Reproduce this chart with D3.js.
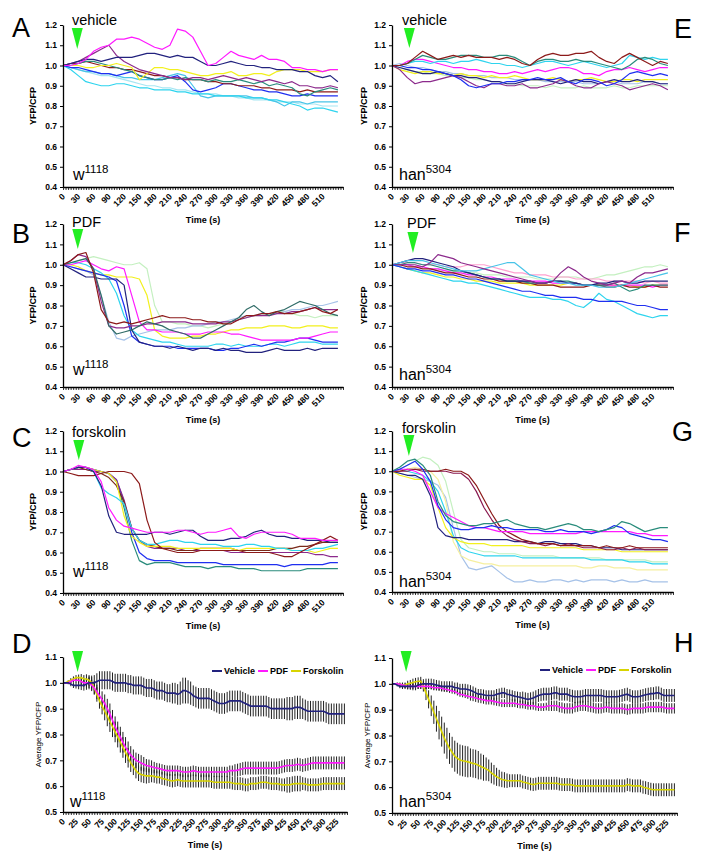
<!DOCTYPE html>
<html><head><meta charset="utf-8">
<script src="https://cdn.jsdelivr.net/npm/d3@7"></script>
<style>body{margin:0;background:#fff}svg{display:block}</style>
</head><body>
<svg id="c" width="704" height="858"></svg>
<script>
// ---------- categories / ticks ----------
const timeTraces = [0,15,30,45,60,75,90,105,120,135,150,165,180,195,210,225,240,255,270,285,300,315,330,345,360,375,390,405,420,435,450,465,480,495,510,525,540];
const timeAvg = [0,5,10,15,20,25,30,35,40,45,50,55,60,65,70,75,80,85,90,95,100,105,110,115,120,125,130,135,140,145,150,155,160,165,170,175,180,185,190,195,200,205,210,215,220,225,230,235,240,245,250,255,260,265,270,275,280,285,290,295,300,305,310,315,320,325,330,335,340,345,350,355,360,365,370,375,380,385,390,395,400,405,410,415,420,425,430,435,440,445,450,455,460,465,470,475,480,485,490,495,500,505,510,515,520,525,530,535,540];
const yTicksTrace = [0.4,0.5,0.6,0.7,0.8,0.9,1.0,1.1,1.2];
const yTicksAvg = [0.5,0.6,0.7,0.8,0.9,1.0,1.1];
const xLabelsTrace = [0,30,60,90,120,150,180,210,240,270,300,330,360,390,420,450,480,510];
const xLabelsAvg = [0,25,50,75,100,125,150,175,200,225,250,275,300,325,350,375,400,425,450,475,500,525];
const stimTimes = {A:28,B:29,C:31,D:28,E:34,F:41,G:33,H:27};

// ---------- Panel A: w1118 vehicle ----------
const A_magenta = [1.00,1.00,1.01,1.03,1.07,1.09,1.10,1.13,1.13,1.14, 1.13,1.11,1.09,1.08,1.10,1.18,1.17,1.14,1.07,1.00, 1.01,1.04,1.07,1.05,1.04,1.03,1.05,1.03,1.03,1.02, 0.99,0.99,0.98,0.98,0.97,0.98,0.98];
const A_navy = [1.00,1.01,1.02,1.03,1.03,1.02,1.03,1.04,1.04,1.04, 1.05,1.06,1.06,1.05,1.04,1.05,1.04,1.04,1.02,1.00, 1.00,1.01,1.02,1.01,1.00,1.00,0.99,0.99,0.98,0.98, 0.98,0.97,0.97,0.95,0.94,0.95,0.92];
const A_purple = [1.00,1.01,1.02,1.04,1.06,1.08,1.10,1.05,1.02,1.00, 0.98,0.97,0.96,0.95,0.94,0.94,0.93,0.94,0.94,0.93, 0.94,0.95,0.94,0.93,0.94,0.93,0.92,0.93,0.92,0.91, 0.92,0.90,0.90,0.89,0.89,0.90,0.89];
const A_yellow = [1.00,1.00,1.00,0.99,0.99,1.00,1.00,1.01,1.00,0.99, 0.93,0.96,0.99,0.99,0.98,0.98,0.97,0.96,0.95,0.95, 0.96,0.96,0.97,0.95,0.95,0.96,0.96,0.95,0.97,0.98, 0.98,0.98,0.97,0.97,0.97,0.98,0.98];
const A_teal = [1.00,1.00,1.01,1.02,1.02,1.01,1.00,0.99,0.98,0.97, 0.95,0.94,0.93,0.93,0.94,0.93,0.94,0.93,0.93,0.92, 0.93,0.92,0.92,0.93,0.92,0.91,0.92,0.90,0.91,0.90, 0.89,0.86,0.85,0.87,0.88,0.89,0.88];
const A_darkred = [1.00,1.01,1.01,1.02,1.01,1.00,0.99,0.99,0.98,0.98, 0.97,0.96,0.95,0.95,0.94,0.94,0.93,0.93,0.93,0.92, 0.92,0.91,0.91,0.90,0.90,0.90,0.89,0.89,0.88,0.88, 0.88,0.87,0.88,0.87,0.87,0.87,0.87];
const A_blue = [1.00,0.99,0.99,0.98,0.97,0.96,0.96,0.95,0.96,0.97, 0.95,0.94,0.93,0.93,0.94,0.95,0.92,0.88,0.87,0.88, 0.89,0.91,0.91,0.90,0.89,0.88,0.88,0.87,0.87,0.86, 0.85,0.85,0.86,0.85,0.85,0.85,0.85];
const A_cyan = [1.00,0.98,0.95,0.92,0.91,0.90,0.90,0.91,0.91,0.90, 0.89,0.89,0.88,0.88,0.88,0.87,0.87,0.86,0.86,0.86, 0.85,0.85,0.85,0.85,0.84,0.84,0.84,0.83,0.83,0.82, 0.81,0.80,0.78,0.79,0.79,0.78,0.77];
const A_sky = [1.00,0.99,0.98,0.97,0.97,0.96,0.96,0.95,0.94,0.94, 0.93,0.93,0.93,0.94,0.95,0.96,0.95,0.90,0.85,0.84, 0.85,0.85,0.85,0.85,0.85,0.84,0.84,0.83,0.82,0.80, 0.82,0.82,0.81,0.82,0.82,0.82,0.82];
const A_paleCyan = [1.00,0.99,0.98,0.97,0.96,0.95,0.95,0.94,0.93,0.92, 0.91,0.90,0.90,0.89,0.89,0.88,0.88,0.87,0.86,0.86, 0.86,0.85,0.85,0.84,0.84,0.83,0.83,0.83,0.82,0.82, 0.82,0.81,0.81,0.81,0.80,0.80,0.80];

// ---------- Panel B: w1118 PDF ----------
const B_darkred = [1.00,1.02,1.05,1.06,0.96,0.78,0.72,0.71,0.72,0.71, 0.72,0.73,0.74,0.75,0.74,0.74,0.74,0.73,0.73,0.72, 0.72,0.71,0.71,0.73,0.75,0.75,0.76,0.76,0.77,0.76, 0.76,0.77,0.78,0.79,0.77,0.76,0.78];
const B_slate = [1.00,1.01,1.02,1.03,0.98,0.85,0.70,0.66,0.67,0.68, 0.70,0.72,0.71,0.70,0.68,0.67,0.66,0.64,0.64,0.66, 0.68,0.70,0.72,0.74,0.78,0.80,0.77,0.75,0.77,0.78, 0.80,0.82,0.81,0.80,0.78,0.76,0.75];
const B_navy = [1.00,0.98,0.96,0.94,0.94,0.93,0.93,0.93,0.90,0.68, 0.62,0.61,0.60,0.60,0.59,0.60,0.59,0.58,0.59,0.59, 0.58,0.59,0.58,0.58,0.57,0.57,0.57,0.58,0.59,0.58, 0.58,0.58,0.59,0.58,0.59,0.59,0.59];
const B_blue = [1.00,0.99,0.98,0.97,0.96,0.95,0.94,0.92,0.80,0.65, 0.62,0.61,0.60,0.60,0.60,0.59,0.59,0.59,0.59,0.59, 0.58,0.58,0.59,0.59,0.60,0.61,0.60,0.61,0.62,0.62, 0.63,0.64,0.64,0.63,0.62,0.62,0.62];
const B_magenta = [1.00,1.00,1.01,1.02,1.00,0.98,0.97,0.99,0.98,0.85, 0.72,0.68,0.68,0.67,0.67,0.67,0.66,0.66,0.66,0.67, 0.67,0.67,0.66,0.66,0.65,0.64,0.63,0.63,0.63,0.63, 0.63,0.64,0.64,0.65,0.66,0.67,0.67];
const B_yellow = [1.00,1.00,0.99,0.97,0.96,0.95,0.95,0.94,0.94,0.94, 0.93,0.85,0.68,0.65,0.64,0.64,0.64,0.65,0.65,0.66, 0.66,0.67,0.68,0.68,0.69,0.69,0.69,0.70,0.70,0.70, 0.69,0.69,0.70,0.70,0.70,0.69,0.69];
const B_paleGreen = [1.00,1.01,1.02,1.03,1.04,1.03,1.02,1.01,1.00,1.00, 1.01,0.98,0.80,0.72,0.72,0.71,0.71,0.70,0.70,0.69, 0.70,0.71,0.72,0.73,0.74,0.75,0.75,0.76,0.77,0.77, 0.76,0.75,0.75,0.74,0.75,0.75,0.75];
const B_cyan = [1.00,1.01,1.01,1.00,0.98,0.96,0.93,0.86,0.75,0.68, 0.65,0.64,0.63,0.62,0.62,0.61,0.60,0.60,0.60,0.60, 0.61,0.61,0.60,0.61,0.60,0.60,0.60,0.61,0.61,0.60, 0.61,0.62,0.62,0.62,0.61,0.61,0.61];
const B_steel = [1.00,0.99,0.98,0.97,0.95,0.85,0.72,0.64,0.63,0.65, 0.66,0.67,0.68,0.68,0.68,0.69,0.69,0.70,0.70,0.71, 0.72,0.72,0.73,0.74,0.75,0.75,0.76,0.76,0.76,0.77, 0.78,0.78,0.79,0.80,0.80,0.81,0.82];
const B_purple = [1.00,1.02,1.05,1.04,0.98,0.82,0.70,0.69,0.69,0.70, 0.70,0.71,0.71,0.72,0.72,0.72,0.72,0.71,0.71,0.71, 0.71,0.72,0.72,0.73,0.74,0.75,0.75,0.75,0.76,0.76, 0.77,0.77,0.78,0.79,0.78,0.78,0.78];

// ---------- Panel C: w1118 forskolin ----------
const C_magenta = [1.00,1.01,1.03,1.02,1.01,0.95,0.82,0.76,0.73,0.72, 0.71,0.70,0.70,0.70,0.70,0.71,0.71,0.70,0.69,0.70, 0.70,0.71,0.72,0.68,0.67,0.69,0.70,0.70,0.70,0.70, 0.69,0.67,0.67,0.67,0.66,0.66,0.66];
const C_navy = [1.00,1.01,1.02,1.02,1.00,0.93,0.78,0.70,0.69,0.69, 0.69,0.69,0.70,0.70,0.69,0.70,0.71,0.71,0.68,0.66, 0.66,0.66,0.67,0.67,0.68,0.70,0.71,0.69,0.68,0.68, 0.67,0.67,0.66,0.66,0.66,0.65,0.65];
const C_cyan = [1.00,1.01,1.02,1.02,1.00,0.92,0.89,0.87,0.84,0.72, 0.66,0.64,0.64,0.65,0.66,0.66,0.65,0.65,0.64,0.64, 0.64,0.63,0.63,0.63,0.64,0.64,0.63,0.63,0.62,0.62, 0.61,0.61,0.61,0.62,0.62,0.63,0.64];
const C_yellow = [1.00,1.01,1.02,1.02,1.01,1.00,0.99,0.95,0.78,0.68, 0.65,0.63,0.63,0.63,0.63,0.62,0.62,0.62,0.62,0.62, 0.62,0.62,0.62,0.61,0.62,0.62,0.62,0.62,0.62,0.62, 0.61,0.61,0.61,0.60,0.61,0.62,0.62];
const C_purple = [1.00,1.01,1.01,1.01,1.00,1.00,0.99,0.96,0.86,0.72, 0.66,0.63,0.62,0.62,0.62,0.62,0.61,0.61,0.61,0.61, 0.61,0.61,0.60,0.60,0.60,0.60,0.60,0.60,0.60,0.60, 0.60,0.60,0.60,0.59,0.59,0.58,0.58];
const C_darkred = [1.00,0.99,0.98,0.98,0.98,0.99,1.00,1.00,1.00,0.99, 0.94,0.76,0.65,0.62,0.61,0.60,0.60,0.60,0.61,0.61, 0.61,0.61,0.61,0.61,0.60,0.60,0.60,0.60,0.59,0.58, 0.58,0.60,0.62,0.64,0.66,0.68,0.66];
const C_brown = [1.00,1.01,1.02,1.01,1.00,0.99,0.97,0.93,0.85,0.72, 0.66,0.64,0.63,0.62,0.62,0.61,0.61,0.61,0.62,0.62, 0.62,0.62,0.62,0.61,0.61,0.61,0.61,0.61,0.62,0.62, 0.62,0.63,0.63,0.64,0.65,0.65,0.65];
const C_blue = [1.00,1.01,1.02,1.02,1.01,1.00,0.99,0.96,0.85,0.70, 0.60,0.57,0.56,0.56,0.56,0.55,0.55,0.55,0.55,0.55, 0.55,0.54,0.54,0.54,0.54,0.54,0.54,0.54,0.54,0.53, 0.54,0.54,0.54,0.54,0.54,0.55,0.55];
const C_teal = [1.00,1.01,1.02,1.02,1.01,1.00,0.99,0.95,0.82,0.66, 0.56,0.54,0.55,0.55,0.55,0.54,0.53,0.53,0.53,0.52, 0.53,0.53,0.53,0.52,0.52,0.52,0.51,0.51,0.51,0.51, 0.51,0.51,0.52,0.52,0.52,0.52,0.52];

// ---------- Panel E: han5304 vehicle ----------
const E_darkred = [1.00,1.00,1.01,1.04,1.07,1.05,1.03,1.04,1.05,1.04, 1.05,1.04,1.04,1.04,1.03,1.04,1.03,1.01,1.00,1.03, 1.05,1.06,1.05,1.05,1.06,1.06,1.07,1.04,1.02,1.01, 1.04,1.06,1.04,1.02,1.00,1.02,1.01];
const E_teal = [1.00,1.00,1.01,1.03,1.05,1.04,1.03,1.03,1.04,1.05, 1.05,1.05,1.04,1.04,1.05,1.05,1.04,1.02,1.00,1.02, 1.03,1.03,1.02,1.02,1.03,1.02,1.02,1.01,1.00,0.99, 0.98,1.00,1.03,1.04,1.03,1.01,1.00];
const E_cyan = [1.00,1.00,1.01,1.02,1.02,1.01,1.02,1.02,1.01,1.02, 1.02,1.03,1.02,1.01,1.01,1.00,1.00,0.99,1.00,1.01, 1.02,1.02,1.01,1.00,1.01,1.02,1.01,1.00,0.99,1.00, 1.01,1.05,1.04,1.03,1.04,1.03,1.03];
const E_magenta = [1.00,1.00,1.02,1.03,1.03,1.02,1.01,1.00,0.99,0.99, 0.98,0.98,0.97,0.97,0.96,0.96,0.97,0.96,0.97,0.98, 0.97,0.98,0.99,0.99,0.98,0.96,0.96,0.95,0.97,0.98, 0.98,0.99,0.98,0.97,0.98,0.99,0.99];
const E_yellow = [1.00,0.98,0.97,0.96,0.97,0.97,0.96,0.96,0.95,0.96, 0.95,0.95,0.94,0.95,0.94,0.94,0.95,0.94,0.93,0.93, 0.93,0.94,0.93,0.92,0.93,0.93,0.94,0.93,0.92,0.92, 0.93,0.93,0.92,0.93,0.93,0.93,0.93];
const E_purple = [1.00,0.98,0.94,0.91,0.92,0.92,0.93,0.94,0.95,0.94, 0.92,0.90,0.89,0.91,0.91,0.90,0.90,0.91,0.89,0.89, 0.90,0.91,0.93,0.92,0.90,0.89,0.89,0.91,0.92,0.91, 0.90,0.88,0.89,0.90,0.91,0.90,0.88];
const E_blue = [1.00,1.00,0.99,0.99,0.98,0.98,0.97,0.96,0.95,0.93, 0.90,0.89,0.90,0.91,0.91,0.92,0.92,0.93,0.93,0.94, 0.93,0.93,0.94,0.92,0.91,0.93,0.93,0.92,0.90,0.91, 0.93,0.96,0.97,0.96,0.95,0.96,0.95];
const E_navy = [1.00,0.99,0.98,0.97,0.96,0.96,0.97,0.96,0.95,0.95, 0.94,0.94,0.93,0.92,0.92,0.91,0.91,0.92,0.93,0.93, 0.93,0.92,0.91,0.92,0.93,0.92,0.92,0.91,0.92,0.93, 0.92,0.92,0.93,0.92,0.92,0.91,0.91];
const E_paleGreen = [1.00,0.99,0.98,0.97,0.97,0.96,0.96,0.95,0.95,0.94, 0.94,0.93,0.93,0.92,0.92,0.91,0.91,0.90,0.90,0.90, 0.89,0.90,0.89,0.89,0.89,0.90,0.89,0.89,0.89,0.90, 0.89,0.89,0.90,0.90,0.90,0.90,0.90];
const E_steel = [1.00,1.01,1.00,0.99,0.99,0.98,0.97,0.97,0.96,0.96, 0.95,0.95,0.95,0.94,0.94,0.94,0.93,0.93,0.93,0.93, 0.92,0.92,0.92,0.92,0.92,0.91,0.91,0.91,0.92,0.92, 0.91,0.91,0.91,0.92,0.92,0.91,0.91];

// ---------- Panel F: han5304 PDF ----------
const F_purple = [1.00,1.00,1.00,1.00,0.99,1.01,1.05,1.04,1.03,1.01, 1.00,0.99,0.98,0.97,0.96,0.95,0.94,0.93,0.92,0.91, 0.91,0.92,0.96,0.99,0.97,0.94,0.92,0.91,0.90,0.91, 0.92,0.91,0.94,0.96,0.96,0.97,0.98];
const F_blue = [1.00,0.99,0.98,0.98,0.97,0.97,0.96,0.95,0.95,0.94, 0.93,0.93,0.92,0.91,0.90,0.89,0.88,0.87,0.87,0.86, 0.85,0.85,0.84,0.84,0.84,0.83,0.83,0.82,0.82,0.82, 0.82,0.81,0.80,0.80,0.79,0.78,0.78];
const F_cyan = [1.00,0.99,0.98,0.97,0.96,0.95,0.94,0.93,0.92,0.92, 0.91,0.91,0.90,0.89,0.88,0.87,0.86,0.85,0.84,0.84, 0.84,0.83,0.83,0.82,0.80,0.79,0.82,0.86,0.83,0.82, 0.80,0.78,0.76,0.75,0.74,0.75,0.75];
const F_sky = [1.00,1.01,1.02,1.02,1.02,1.01,1.00,0.99,0.98,0.97, 0.97,0.97,0.98,0.99,1.00,1.01,1.01,0.98,0.95,0.94, 0.93,0.92,0.91,0.91,0.90,0.90,0.90,0.89,0.89,0.89, 0.90,0.91,0.92,0.93,0.94,0.95,0.96];
const F_pink = [1.00,1.01,1.01,1.01,1.00,1.00,1.00,0.99,0.99,0.99, 1.00,1.00,1.00,0.99,0.98,0.97,0.96,0.96,0.95,0.95, 0.95,0.94,0.94,0.94,0.93,0.93,0.93,0.93,0.92,0.92, 0.92,0.92,0.92,0.91,0.92,0.91,0.91];
const F_magenta = [1.00,1.00,1.00,0.99,0.99,0.98,0.98,0.97,0.96,0.96, 0.95,0.95,0.94,0.94,0.93,0.93,0.93,0.92,0.92,0.92, 0.92,0.91,0.91,0.91,0.91,0.90,0.90,0.90,0.90,0.90, 0.90,0.90,0.90,0.90,0.89,0.90,0.90];
const F_darkred = [1.00,1.00,0.99,0.99,0.98,0.98,0.97,0.96,0.96,0.95, 0.94,0.94,0.93,0.93,0.92,0.92,0.92,0.91,0.91,0.90, 0.90,0.90,0.89,0.89,0.89,0.89,0.90,0.90,0.89,0.89, 0.90,0.89,0.89,0.89,0.90,0.89,0.89];
const F_teal = [1.00,1.00,1.01,1.01,1.00,1.00,0.99,0.98,0.97,0.97, 0.96,0.95,0.94,0.93,0.93,0.92,0.92,0.92,0.91,0.91, 0.91,0.92,0.92,0.92,0.91,0.90,0.90,0.90,0.90,0.91, 0.89,0.87,0.88,0.90,0.90,0.90,0.90];
const F_navy = [1.00,1.01,1.02,1.03,1.03,1.02,1.01,1.00,0.99,0.97, 0.96,0.95,0.94,0.93,0.93,0.92,0.92,0.92,0.92,0.91, 0.91,0.92,0.92,0.91,0.91,0.90,0.90,0.91,0.91,0.92, 0.92,0.91,0.91,0.92,0.92,0.92,0.92];
const F_yellow = [1.00,0.99,0.98,0.97,0.96,0.96,0.95,0.94,0.94,0.93, 0.93,0.92,0.92,0.92,0.91,0.91,0.91,0.91,0.90,0.90, 0.90,0.90,0.90,0.91,0.91,0.90,0.90,0.90,0.90,0.90, 0.90,0.90,0.89,0.89,0.90,0.90,0.90];
const F_paleGreen = [1.00,1.00,1.00,0.99,0.99,0.98,0.98,0.97,0.97,0.96, 0.96,0.96,0.95,0.95,0.95,0.94,0.94,0.94,0.94,0.93, 0.93,0.93,0.94,0.94,0.94,0.93,0.93,0.94,0.95,0.95, 0.96,0.97,0.98,0.99,0.99,1.00,0.99];

// ---------- Panel G: han5304 forskolin ----------
const G_teal = [1.00,1.02,1.05,1.06,1.03,0.98,0.85,0.78,0.75,0.74, 0.73,0.73,0.74,0.74,0.75,0.76,0.74,0.73,0.72,0.72, 0.71,0.72,0.73,0.74,0.73,0.71,0.71,0.70,0.71,0.72, 0.75,0.74,0.72,0.70,0.71,0.72,0.72];
const G_blue = [1.00,1.01,1.03,1.05,1.01,0.95,0.83,0.76,0.72,0.71, 0.71,0.72,0.72,0.73,0.72,0.72,0.71,0.71,0.71,0.71, 0.70,0.70,0.71,0.70,0.70,0.70,0.69,0.70,0.71,0.73, 0.72,0.69,0.68,0.67,0.66,0.66,0.65];
const G_magenta = [1.00,1.01,1.01,1.00,0.98,0.90,0.82,0.79,0.77,0.75, 0.73,0.72,0.72,0.71,0.70,0.70,0.70,0.70,0.69,0.69, 0.69,0.69,0.69,0.69,0.69,0.70,0.70,0.70,0.70,0.70, 0.70,0.70,0.69,0.69,0.68,0.68,0.68];
const G_navy = [1.00,0.99,0.98,0.98,0.96,0.88,0.72,0.68,0.67,0.67, 0.66,0.66,0.66,0.66,0.66,0.66,0.65,0.65,0.65,0.64, 0.65,0.65,0.64,0.64,0.64,0.63,0.63,0.62,0.62,0.62, 0.61,0.61,0.61,0.61,0.61,0.61,0.61];
const G_darkred = [1.00,1.00,1.01,1.01,1.01,1.00,1.00,1.01,1.00,1.00, 0.98,0.93,0.86,0.79,0.73,0.70,0.68,0.66,0.65,0.64, 0.64,0.64,0.63,0.63,0.63,0.63,0.63,0.62,0.63,0.62, 0.62,0.63,0.62,0.62,0.62,0.62,0.62];
const G_maroon = [1.00,1.00,1.00,1.01,1.00,1.00,1.00,1.00,0.99,0.99, 0.96,0.90,0.82,0.76,0.71,0.68,0.66,0.65,0.64,0.64, 0.63,0.64,0.63,0.64,0.63,0.62,0.62,0.62,0.61,0.61, 0.62,0.61,0.62,0.61,0.61,0.61,0.61];
const G_yellow = [1.00,0.98,0.97,0.96,0.96,0.93,0.82,0.72,0.67,0.65, 0.64,0.64,0.64,0.63,0.63,0.63,0.63,0.63,0.62,0.62, 0.62,0.62,0.62,0.62,0.62,0.61,0.61,0.61,0.61,0.61, 0.60,0.60,0.60,0.60,0.60,0.60,0.60];
const G_paleGreen = [1.00,1.01,1.03,1.05,1.07,1.06,1.03,0.95,0.80,0.66, 0.62,0.61,0.60,0.60,0.59,0.59,0.59,0.58,0.58,0.58, 0.58,0.58,0.57,0.57,0.57,0.57,0.57,0.57,0.56,0.56, 0.56,0.56,0.56,0.56,0.55,0.55,0.55];
const G_cyan = [1.00,1.01,1.00,0.99,0.98,0.95,0.90,0.80,0.68,0.62, 0.60,0.59,0.58,0.58,0.58,0.58,0.58,0.57,0.57,0.57, 0.57,0.57,0.57,0.57,0.57,0.57,0.56,0.56,0.56,0.56, 0.56,0.55,0.55,0.55,0.54,0.54,0.54];
const G_paleYellow = [1.00,1.00,1.01,1.02,1.01,1.00,0.96,0.85,0.65,0.58, 0.56,0.55,0.54,0.54,0.53,0.53,0.53,0.53,0.53,0.53, 0.53,0.53,0.53,0.53,0.53,0.52,0.52,0.53,0.53,0.52, 0.52,0.52,0.51,0.51,0.51,0.51,0.51];
const G_steel = [1.00,0.99,0.98,0.97,0.96,0.95,0.93,0.87,0.72,0.58, 0.52,0.51,0.52,0.53,0.50,0.47,0.45,0.45,0.46,0.45, 0.45,0.46,0.46,0.45,0.46,0.45,0.46,0.46,0.46,0.45, 0.46,0.45,0.45,0.46,0.45,0.45,0.45];

// ---------- Panel D: w1118 averages (mean, SEM), every 5 s ----------
const D_vehicle = [1.00,1.00,1.00,0.995,0.99,0.99,0.99,0.99,0.99,0.995, 1.00,1.00,1.00,1.005,1.01,1.01,1.01,1.01,1.01,1.005, 1.00,1.00,1.00,1.00,1.00,0.995,0.995,0.99,0.99,0.99, 0.99,0.985,0.98,0.98,0.98,0.975,0.97,0.97,0.97,0.965, 0.96,0.96,0.96,0.96,0.955,0.96,0.97,0.97,0.965,0.96, 0.95,0.945,0.94,0.94,0.94,0.94,0.94,0.935,0.93,0.925, 0.92,0.92,0.92,0.925,0.93,0.93,0.93,0.93,0.93,0.925, 0.92,0.915,0.91,0.91,0.91,0.91,0.91,0.91,0.91,0.905, 0.90,0.90,0.90,0.90,0.90,0.90,0.90,0.90,0.90,0.905, 0.905,0.905,0.90,0.895,0.89,0.89,0.89,0.89,0.89,0.89, 0.89,0.885,0.88,0.88,0.88,0.88,0.88,0.88,0.88];
const D_vehicleErr = [0,0.003,0.005,0.008,0.01,0.012,0.015,0.018,0.02,0.022, 0.025,0.028,0.03,0.032,0.035,0.035,0.035,0.035,0.035,0.035, 0.035,0.035,0.035,0.035,0.035,0.035,0.035,0.035,0.035,0.035, 0.035,0.035,0.035,0.035,0.035,0.035,0.035,0.035,0.035,0.035, 0.035,0.035,0.04,0.04,0.04,0.045,0.05,0.05,0.045,0.045, 0.04,0.04,0.04,0.04,0.04,0.04,0.04,0.04,0.04,0.04, 0.04,0.04,0.04,0.04,0.04,0.04,0.04,0.04,0.04,0.04, 0.04,0.04,0.04,0.04,0.04,0.04,0.04,0.04,0.04,0.04, 0.04,0.04,0.04,0.04,0.04,0.04,0.045,0.045,0.045,0.045, 0.045,0.045,0.04,0.04,0.04,0.04,0.04,0.04,0.04,0.04, 0.04,0.04,0.04,0.04,0.04,0.04,0.04,0.04,0.04];
const D_pdf = [1.00,1.00,1.00,1.005,1.01,1.01,1.01,1.005,1.00,1.00, 1.00,0.99,0.98,0.965,0.95,0.935,0.92,0.90,0.88,0.855, 0.83,0.81,0.79,0.77,0.75,0.735,0.72,0.71,0.70,0.695, 0.69,0.685,0.68,0.678,0.675,0.672,0.67,0.668,0.665,0.662, 0.66,0.66,0.66,0.66,0.66,0.658,0.655,0.655,0.655,0.657, 0.66,0.658,0.655,0.655,0.655,0.655,0.655,0.655,0.655,0.655, 0.655,0.655,0.655,0.655,0.66,0.66,0.66,0.662,0.665,0.668, 0.67,0.67,0.67,0.67,0.67,0.67,0.67,0.67,0.67,0.67, 0.67,0.67,0.67,0.672,0.675,0.678,0.68,0.68,0.68,0.682, 0.685,0.683,0.68,0.683,0.685,0.688,0.69,0.69,0.69,0.69, 0.69,0.69,0.69,0.69,0.69,0.69,0.69,0.69,0.69];
const D_pdfErr = [0,0.003,0.005,0.008,0.01,0.01,0.012,0.014,0.015,0.018, 0.02,0.022,0.025,0.028,0.03,0.032,0.035,0.038,0.04,0.04, 0.04,0.04,0.04,0.04,0.04,0.038,0.035,0.032,0.03,0.03, 0.03,0.028,0.025,0.025,0.025,0.022,0.02,0.02,0.02,0.02, 0.02,0.02,0.02,0.02,0.02,0.02,0.02,0.02,0.02,0.02, 0.02,0.02,0.02,0.02,0.02,0.02,0.02,0.02,0.02,0.02, 0.02,0.02,0.02,0.02,0.02,0.02,0.025,0.025,0.025,0.025, 0.025,0.025,0.025,0.025,0.025,0.025,0.025,0.025,0.025,0.025, 0.025,0.025,0.025,0.025,0.025,0.025,0.025,0.025,0.025,0.025, 0.025,0.025,0.025,0.025,0.025,0.025,0.025,0.025,0.025,0.025, 0.025,0.025,0.025,0.025,0.025,0.025,0.025,0.025,0.025];
const D_forsk = [1.00,1.00,1.005,1.01,1.015,1.02,1.02,1.02,1.015,1.015, 1.01,1.00,0.98,0.955,0.93,0.91,0.89,0.87,0.85,0.83, 0.81,0.79,0.77,0.75,0.73,0.71,0.69,0.675,0.66,0.65, 0.645,0.642,0.64,0.64,0.64,0.638,0.635,0.635,0.63,0.628, 0.625,0.622,0.62,0.622,0.625,0.622,0.62,0.62,0.62,0.62, 0.62,0.62,0.62,0.62,0.62,0.62,0.62,0.618,0.615,0.615, 0.615,0.615,0.615,0.615,0.615,0.612,0.61,0.61,0.61,0.608, 0.605,0.605,0.61,0.61,0.61,0.612,0.615,0.615,0.615,0.612, 0.61,0.61,0.61,0.608,0.605,0.605,0.605,0.605,0.608,0.61, 0.61,0.61,0.61,0.608,0.605,0.605,0.605,0.605,0.605,0.608, 0.61,0.61,0.61,0.61,0.61,0.61,0.61,0.61,0.61];
const D_forskErr = [0,0.003,0.005,0.008,0.01,0.01,0.012,0.014,0.015,0.018, 0.02,0.022,0.025,0.028,0.03,0.032,0.035,0.038,0.04,0.04, 0.04,0.04,0.04,0.04,0.04,0.038,0.035,0.032,0.03,0.03, 0.03,0.03,0.03,0.028,0.025,0.025,0.025,0.025,0.025,0.025, 0.025,0.025,0.025,0.025,0.025,0.025,0.025,0.025,0.025,0.025, 0.025,0.025,0.025,0.025,0.025,0.025,0.025,0.025,0.025,0.025, 0.025,0.025,0.025,0.025,0.025,0.025,0.025,0.025,0.025,0.025, 0.025,0.025,0.025,0.025,0.025,0.025,0.025,0.025,0.025,0.025, 0.025,0.025,0.025,0.025,0.025,0.025,0.03,0.03,0.03,0.03, 0.03,0.03,0.025,0.025,0.025,0.025,0.025,0.025,0.025,0.025, 0.025,0.025,0.025,0.025,0.025,0.025,0.025,0.025,0.025];

// ---------- Panel H: han5304 averages (mean, SEM), every 5 s ----------
const H_vehicle = [1.00,1.00,0.995,0.99,0.99,0.99,0.99,0.99,0.99,0.99, 0.995,0.998,1.00,1.00,1.00,1.00,0.998,0.995,0.993,0.99, 0.99,0.99,0.99,0.99,0.985,0.985,0.98,0.98,0.98,0.978, 0.975,0.97,0.965,0.96,0.96,0.958,0.955,0.955,0.955,0.955, 0.96,0.962,0.965,0.965,0.96,0.958,0.955,0.952,0.95,0.948, 0.945,0.942,0.94,0.942,0.945,0.95,0.955,0.958,0.96,0.96, 0.96,0.962,0.965,0.965,0.96,0.96,0.96,0.96,0.955,0.952, 0.95,0.95,0.95,0.952,0.955,0.955,0.955,0.955,0.955,0.955, 0.955,0.952,0.95,0.95,0.95,0.95,0.95,0.952,0.955,0.958, 0.96,0.955,0.95,0.95,0.95,0.952,0.955,0.958,0.96,0.962, 0.962,0.965,0.965,0.96,0.955,0.955,0.955,0.955,0.955];
const H_vehicleErr = [0,0.003,0.005,0.007,0.01,0.01,0.012,0.013,0.015,0.015, 0.015,0.017,0.018,0.02,0.02,0.02,0.02,0.02,0.02,0.02, 0.02,0.02,0.02,0.02,0.02,0.02,0.02,0.02,0.02,0.02, 0.02,0.02,0.02,0.02,0.02,0.02,0.02,0.02,0.02,0.02, 0.02,0.02,0.02,0.02,0.02,0.02,0.02,0.02,0.02,0.02, 0.025,0.025,0.025,0.025,0.025,0.025,0.025,0.025,0.025,0.025, 0.025,0.025,0.025,0.025,0.025,0.025,0.025,0.025,0.025,0.025, 0.025,0.025,0.025,0.025,0.025,0.025,0.025,0.025,0.025,0.025, 0.025,0.025,0.025,0.025,0.025,0.025,0.025,0.025,0.025,0.025, 0.025,0.025,0.025,0.025,0.025,0.025,0.025,0.025,0.025,0.025, 0.025,0.025,0.025,0.025,0.025,0.025,0.025,0.025,0.025];
const H_pdf = [1.00,1.00,1.00,0.998,0.995,0.993,0.99,0.99,0.99,0.99, 0.99,0.99,0.99,0.99,0.99,0.988,0.985,0.985,0.985,0.983, 0.98,0.978,0.975,0.972,0.97,0.965,0.96,0.958,0.955,0.952, 0.95,0.948,0.945,0.942,0.94,0.938,0.935,0.935,0.935,0.932, 0.93,0.928,0.925,0.925,0.925,0.925,0.925,0.925,0.922,0.92, 0.92,0.918,0.915,0.915,0.915,0.912,0.91,0.91,0.91,0.912, 0.915,0.915,0.915,0.915,0.91,0.908,0.905,0.905,0.905,0.905, 0.91,0.912,0.915,0.915,0.915,0.912,0.91,0.908,0.905,0.905, 0.905,0.908,0.91,0.908,0.905,0.905,0.905,0.905,0.905,0.903, 0.90,0.902,0.905,0.905,0.905,0.905,0.905,0.908,0.91,0.91, 0.91,0.91,0.91,0.91,0.908,0.905,0.905,0.905,0.905];
const H_pdfErr = [0,0.002,0.004,0.005,0.006,0.008,0.01,0.01,0.01,0.01, 0.01,0.01,0.01,0.01,0.01,0.01,0.01,0.01,0.01,0.01, 0.01,0.01,0.01,0.01,0.01,0.01,0.01,0.01,0.01,0.01, 0.015,0.015,0.015,0.015,0.015,0.015,0.015,0.015,0.015,0.015, 0.015,0.015,0.015,0.015,0.015,0.015,0.015,0.015,0.015,0.015, 0.015,0.015,0.015,0.015,0.015,0.015,0.015,0.015,0.015,0.015, 0.02,0.02,0.02,0.02,0.02,0.02,0.02,0.02,0.02,0.02, 0.02,0.02,0.02,0.02,0.02,0.02,0.02,0.02,0.02,0.02, 0.02,0.02,0.02,0.02,0.02,0.02,0.02,0.02,0.02,0.02, 0.02,0.02,0.02,0.02,0.02,0.02,0.02,0.02,0.02,0.02, 0.02,0.02,0.02,0.02,0.02,0.02,0.02,0.02,0.02];
const H_forsk = [1.00,1.00,1.00,0.998,0.995,0.995,1.00,1.002,1.005,1.008, 1.01,1.01,0.99,0.965,0.94,0.915,0.89,0.865,0.84,0.815, 0.79,0.77,0.75,0.735,0.72,0.712,0.705,0.702,0.70,0.698, 0.695,0.692,0.69,0.685,0.68,0.675,0.67,0.665,0.655,0.648, 0.64,0.635,0.63,0.628,0.625,0.625,0.625,0.625,0.625,0.625, 0.62,0.618,0.615,0.612,0.61,0.612,0.615,0.615,0.615,0.615, 0.615,0.615,0.615,0.615,0.612,0.61,0.61,0.61,0.61,0.608, 0.605,0.605,0.605,0.605,0.605,0.605,0.605,0.605,0.605,0.605, 0.605,0.605,0.605,0.605,0.605,0.605,0.605,0.605,0.605,0.605, 0.61,0.608,0.605,0.605,0.605,0.605,0.60,0.598,0.595,0.592, 0.59,0.59,0.59,0.59,0.59,0.59,0.59,0.59,0.59];
const H_forskErr = [0,0.003,0.005,0.007,0.01,0.01,0.012,0.013,0.015,0.015, 0.015,0.017,0.02,0.028,0.035,0.04,0.045,0.05,0.055,0.058, 0.06,0.06,0.06,0.06,0.06,0.06,0.06,0.06,0.06,0.06, 0.055,0.055,0.055,0.055,0.05,0.05,0.045,0.042,0.04,0.038, 0.035,0.032,0.03,0.03,0.028,0.025,0.025,0.025,0.025,0.025, 0.025,0.025,0.025,0.025,0.025,0.025,0.025,0.025,0.025,0.025, 0.025,0.025,0.025,0.025,0.025,0.025,0.025,0.025,0.025,0.025, 0.025,0.025,0.025,0.025,0.025,0.025,0.025,0.025,0.025,0.025, 0.025,0.025,0.025,0.025,0.025,0.025,0.025,0.025,0.025,0.025, 0.025,0.025,0.025,0.025,0.025,0.025,0.025,0.025,0.025,0.025, 0.025,0.025,0.025,0.025,0.025,0.025,0.025,0.025,0.025];

// ---------- styles ----------
const FONT = "'Liberation Sans', Arial, Helvetica, sans-serif";
const palette = {
  magenta:"#ff1aff", navy:"#22227e", purple:"#8c2a8c", yellow:"#f2f01e", teal:"#2a8c7c",
  darkred:"#8c1a1a", blue:"#1f2ff0", cyan:"#2ed4ee", sky:"#48c4e8", paleCyan:"#a6e6f2",
  slate:"#2f6b66", paleGreen:"#c4f0c0", steel:"#a6c2e8", pink:"#ffa0d0", brown:"#7a2a1a",
  maroon:"#8a1a50", paleYellow:"#f6f0a0"
};
const avgColors = {Vehicle:"#22227e", PDF:"#ff1aff", Forskolin:"#d8d400"};

const panelTraces = {
  A: [["paleCyan",A_paleCyan],["sky",A_sky],["cyan",A_cyan],["blue",A_blue],["darkred",A_darkred],["teal",A_teal],["yellow",A_yellow],["purple",A_purple],["navy",A_navy],["magenta",A_magenta]],
  B: [["paleGreen",B_paleGreen],["steel",B_steel],["yellow",B_yellow],["cyan",B_cyan],["blue",B_blue],["navy",B_navy],["magenta",B_magenta],["purple",B_purple],["slate",B_slate],["darkred",B_darkred]],
  C: [["teal",C_teal],["blue",C_blue],["purple",C_purple],["brown",C_brown],["yellow",C_yellow],["cyan",C_cyan],["darkred",C_darkred],["navy",C_navy],["magenta",C_magenta]],
  E: [["paleGreen",E_paleGreen],["steel",E_steel],["yellow",E_yellow],["navy",E_navy],["purple",E_purple],["blue",E_blue],["magenta",E_magenta],["cyan",E_cyan],["teal",E_teal],["darkred",E_darkred]],
  F: [["paleGreen",F_paleGreen],["pink",F_pink],["yellow",F_yellow],["magenta",F_magenta],["darkred",F_darkred],["teal",F_teal],["navy",F_navy],["sky",F_sky],["purple",F_purple],["cyan",F_cyan],["blue",F_blue]],
  G: [["steel",G_steel],["paleYellow",G_paleYellow],["paleGreen",G_paleGreen],["cyan",G_cyan],["yellow",G_yellow],["navy",G_navy],["maroon",G_maroon],["darkred",G_darkred],["magenta",G_magenta],["blue",G_blue],["teal",G_teal]]
};
const panelAvg = {
  D: [["Forskolin",D_forsk,D_forskErr],["PDF",D_pdf,D_pdfErr],["Vehicle",D_vehicle,D_vehicleErr]],
  H: [["Forskolin",H_forsk,H_forskErr],["PDF",H_pdf,H_pdfErr],["Vehicle",H_vehicle,H_vehicleErr]]
};

// layout (positions only)
const layout = {
  A:{x0:63,x1:343,yTop:25,yBot:187,letter:[12,37],treat:[72,25,"vehicle"],tri:[28,49],geno:[73,180,"w","1118"],ylabX:36},
  B:{x0:63,x1:343,yTop:224,yBot:387,letter:[12,243],treat:[72,227,"PDF"],tri:[229,249],geno:[73,375,"w","1118"],ylabX:36},
  C:{x0:63,x1:343,yTop:431,yBot:593,letter:[12,447],treat:[72,437,"forskolin"],tri:[440,460],geno:[73,577,"w","1118"],ylabX:36},
  E:{x0:392,x1:673,yTop:25,yBot:187,letter:[674,38],treat:[402,25,"vehicle"],tri:[28,48],geno:[399,180,"han","5304"],ylabX:367},
  F:{x0:392,x1:673,yTop:224,yBot:387,letter:[674,242],treat:[407,228,"PDF"],tri:[232,253],geno:[399,380,"han","5304"],ylabX:367},
  G:{x0:392,x1:673,yTop:431,yBot:592,letter:[672,441],treat:[402,433,"forskolin"],tri:[435,456],geno:[399,587,"han","5304"],ylabX:367},
  D:{x0:63,x1:347,yTop:657,yBot:812,letter:[12,653],tri:[651,672],geno:[70,807,"w","1118"],ylabX:41,legend:[212,671]},
  H:{x0:392,x1:677,yTop:658,yBot:813,letter:[674,652],tri:[651,672],geno:[399,807,"han","5304"],ylabX:370,legend:[540,670]}
};

const svg = d3.select("#c");

function styleText(sel, size, weight){
  sel.attr("font-family",FONT).attr("font-size",size).attr("font-weight",weight||"normal").attr("fill","#000");
}

function drawAxes(g, x, y, L, yTicks, xLabels, xMax, ylab, ylabWeight, ylabSize){
  const ya = g.append("g").attr("transform",`translate(${L.x0},0)`)
    .call(d3.axisLeft(y).tickValues(yTicks).tickFormat(d3.format(".1f")).tickSize(3).tickSizeOuter(0).tickPadding(3));
  ya.select(".domain").attr("stroke","#000").attr("stroke-width",1.3);
  ya.selectAll(".tick line").attr("stroke","#000").attr("stroke-width",1);
  styleText(ya.selectAll("text"), 8.5, "bold");

  const xa = g.append("g").attr("transform",`translate(0,${L.yBot})`)
    .call(d3.axisBottom(x).tickValues(d3.range(0, xMax+1, 5)).tickSize(3).tickSizeOuter(0).tickFormat(""));
  xa.select(".domain").attr("stroke","#000").attr("stroke-width",1.3);
  xa.selectAll(".tick line").attr("stroke","#000").attr("stroke-width",0.8);

  const xl = g.append("g").attr("transform",`translate(0,${L.yBot})`)
    .call(d3.axisBottom(x).tickValues(xLabels).tickSize(0).tickFormat(d3.format("d")));
  xl.select(".domain").remove();
  xl.selectAll("text").attr("x",0).attr("y",0).attr("dy","0.35em").attr("text-anchor","end")
    .attr("transform","translate(0,8) rotate(-45)");
  styleText(xl.selectAll("text"), 8.5, "bold");

  styleText(g.append("text").attr("x",(L.x0+L.x1)/2).attr("y",L.yBot+36).attr("text-anchor","middle").text("Time (s)"), 9, "bold");
  styleText(g.append("text").attr("transform",`translate(${L.ylabX},${(L.yTop+L.yBot)/2}) rotate(-90)`)
    .attr("text-anchor","middle").text(ylab), ylabSize, ylabWeight);
}

function decorations(g, key, L, x){
  styleText(g.append("text").attr("x",L.letter[0]).attr("y",L.letter[1]).text(key), 27, "normal");
  if (L.treat) styleText(g.append("text").attr("x",L.treat[0]).attr("y",L.treat[1]).text(L.treat[2]), 14.5, "normal");
  const tx = x(stimTimes[key]);
  g.append("path").attr("d",`M${tx-5.5},${L.tri[0]}L${tx+5.5},${L.tri[0]}L${tx},${L.tri[1]}Z`).attr("fill","#22ee22");
  const gt = g.append("text").attr("x",L.geno[0]).attr("y",L.geno[1]);
  styleText(gt, 16, "normal");
  gt.append("tspan").text(L.geno[2]);
  gt.append("tspan").attr("dy",-7).attr("font-size",11.5).text(L.geno[3]);
}

["A","B","C","E","F","G"].forEach(key=>{
  const L = layout[key];
  const g = svg.append("g");
  const x = d3.scaleLinear().domain([0,550]).range([L.x0,L.x1]);
  const y = d3.scaleLinear().domain([0.4,1.2]).range([L.yBot,L.yTop]);
  const line = d3.line().x((d,i)=>x(timeTraces[i])).y(d=>y(d));
  panelTraces[key].forEach(([name, vals])=>{
    g.append("path").attr("d",line(vals)).attr("fill","none")
      .attr("stroke",palette[name]).attr("stroke-width",1.2).attr("stroke-linejoin","round");
  });
  drawAxes(g, x, y, L, yTicksTrace, xLabelsTrace, 550, "YFP/CFP", "bold", 9);
  decorations(g, key, L, x);
});

["D","H"].forEach(key=>{
  const L = layout[key];
  const g = svg.append("g");
  const x = d3.scaleLinear().domain([0,545]).range([L.x0,L.x1]);
  const y = d3.scaleLinear().domain([0.5,1.1]).range([L.yBot,L.yTop]);
  const series = panelAvg[key];
  series.forEach(([name, mean, err])=>{
    g.append("g").selectAll("line").data(mean).join("line")
      .attr("x1",(d,i)=>x(timeAvg[i])).attr("x2",(d,i)=>x(timeAvg[i]))
      .attr("y1",(d,i)=>y(d-err[i])).attr("y2",(d,i)=>y(d+err[i]))
      .attr("stroke","#222").attr("stroke-width",1);
  });
  const line = d3.line().x((d,i)=>x(timeAvg[i])).y(d=>y(d));
  series.forEach(([name, mean])=>{
    g.append("path").attr("d",line(mean)).attr("fill","none")
      .attr("stroke",avgColors[name]).attr("stroke-width",1.6);
  });
  drawAxes(g, x, y, L, yTicksAvg, xLabelsAvg, 545, "Average YFP/CFP", "normal", 8);
  decorations(g, key, L, x);
  let lx = L.legend[0]; const ly = L.legend[1];
  ["Vehicle","PDF","Forskolin"].forEach(name=>{
    g.append("line").attr("x1",lx).attr("x2",lx+10).attr("y1",ly).attr("y2",ly)
      .attr("stroke",avgColors[name]).attr("stroke-width",2);
    const t = g.append("text").attr("x",lx+12).attr("y",ly+3).text(name);
    styleText(t, 9, "bold");
    lx += 12 + t.node().getComputedTextLength() + 3;
  });
});
</script>
</body></html>
